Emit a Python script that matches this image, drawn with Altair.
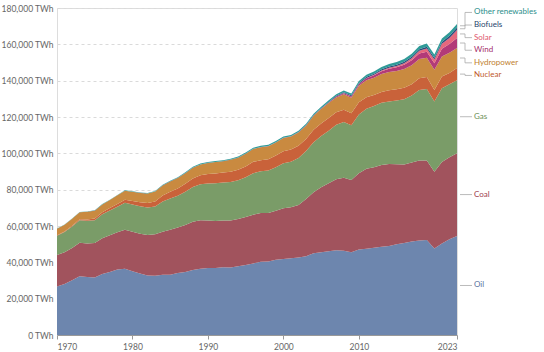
import altair as alt
import pandas as pd

years = list(range(1970, 2024))

oil = [26700, 28100, 30100, 32400, 31900, 31700, 33600, 34700, 36000, 36500,
       35100, 33800, 32800, 32600, 33200, 33200, 34100, 34700, 35800, 36400,
       36900, 36900, 37300, 37200, 37900, 38500, 39400, 40300, 40500, 41400,
       41900, 42200, 42600, 43400, 45000, 45600, 46100, 46600, 46400, 45600,
       47100, 47500, 48000, 48600, 49000, 49900, 50700, 51500, 52000, 52300,
       47600, 50400, 52700, 54500]
coal = [17400, 17400, 17800, 18400, 18500, 18900, 19600, 20200, 20500, 21400,
        21800, 21900, 22200, 22800, 23700, 24700, 25100, 25900, 26500, 26700,
        26100, 25800, 25700, 25800, 26000, 26400, 26800, 26900, 26700, 27000,
        27900, 28100, 29000, 31400, 33600, 35700, 37500, 39200, 40100, 39700,
        42000, 44000, 44300, 45000, 45100, 44100, 43100, 43400, 44100, 43800,
        42300, 44800, 45200, 45600]
gas = [10600, 11200, 11800, 12300, 12500, 12600, 13200, 13600, 14100, 14900,
       15000, 15200, 15200, 15400, 16600, 17200, 17400, 18300, 19100, 19900,
       20400, 20800, 20900, 21200, 21300, 21900, 22900, 22900, 23300, 23900,
       24800, 25100, 25800, 26500, 27500, 28200, 28900, 30000, 30800, 30200,
       32300, 33000, 33800, 34200, 34500, 35100, 36000, 36900, 38800, 39300,
       38700, 40600, 40100, 40100]
nuclear = [230, 320, 440, 560, 710, 960, 1120, 1350, 1560, 1640,
           1860, 2200, 2400, 2750, 3250, 3800, 4100, 4400, 4750, 4900,
           5200, 5450, 5500, 5700, 5800, 6000, 6200, 6150, 6250, 6450,
           6550, 6700, 6750, 6650, 6900, 6900, 6950, 6750, 6700, 6550,
           6750, 6420, 5990, 6000, 6110, 6190, 6240, 6290, 6420, 6590,
           6300, 6530, 6250, 6820]
hydro = [3600, 3700, 3880, 3950, 4250, 4300, 4350, 4450, 4750, 4960,
         5050, 5120, 5250, 5450, 5600, 5650, 5750, 5800, 5950, 5950,
         6100, 6250, 6250, 6550, 6600, 6950, 7050, 7150, 7200, 7200,
         7300, 7150, 7250, 7250, 7650, 7950, 8200, 8250, 8550, 8550,
         9000, 9250, 9550, 9850, 10100, 10100, 10400, 10450, 10650, 10650,
         11050, 10950, 11100, 10900]
wind = [0, 0, 0, 0, 0, 0, 0, 0, 0, 0,
        0, 0, 0, 0, 0, 0, 0, 0, 0, 0,
        10, 10, 10, 10, 20, 20, 30, 30, 40, 60,
        80, 100, 140, 170, 220, 280, 350, 450, 580, 740,
        920, 1150, 1350, 1600, 1770, 2020, 2330, 2690, 2980, 3240,
        3590, 4330, 4870, 5600]
solar = [0, 0, 0, 0, 0, 0, 0, 0, 0, 0,
         0, 0, 0, 0, 0, 0, 0, 0, 0, 0,
         1, 1, 1, 1, 1, 1, 2, 2, 2, 2,
         3, 4, 5, 6, 7, 10, 14, 20, 33, 52,
         87, 170, 260, 360, 500, 650, 850, 1150, 1450, 1780,
         2150, 2650, 3300, 4400]
biofuels = [0, 0, 0, 0, 0, 5, 8, 10, 12, 15,
            20, 25, 30, 35, 45, 55, 55, 60, 60, 60,
            70, 75, 80, 80, 85, 90, 95, 100, 100, 100,
            110, 115, 130, 160, 180, 220, 280, 370, 480, 530,
            600, 620, 620, 680, 750, 770, 800, 850, 950, 1000,
            950, 1050, 1150, 1300]
other = [120, 130, 140, 150, 160, 170, 180, 190, 200, 210,
         230, 250, 270, 300, 330, 360, 380, 400, 420, 440,
         460, 470, 480, 500, 510, 540, 560, 590, 610, 640,
         680, 680, 700, 740, 790, 820, 860, 900, 950, 1000,
         1100, 1150, 1220, 1300, 1380, 1450, 1520, 1600, 1680, 1750,
         1800, 1900, 1950, 2000]

sources = ["Oil", "Coal", "Gas", "Nuclear", "Hydropower", "Wind", "Solar",
           "Biofuels", "Other renewables"]
series = [oil, coal, gas, nuclear, hydro, wind, solar, biofuels, other]
fill_colors = ["#6D86AE", "#A1535D", "#7A9C68", "#C9623A", "#C98A40",
               "#B23A78", "#E5687D", "#2D4A7A", "#2F9B98"]
text_colors = ["#5B73A0", "#A0404E", "#6E9158", "#C0582E", "#C0802E",
               "#A52E6A", "#E0566E", "#263F6B", "#2A8E8B"]
x_ticks = [1970, 1980, 1990, 2000, 2010, 2023]
y_ticks = list(range(0, 180001, 20000))

W, H = 400, 327
Y_MAX = 180000
FONT = "Lato"

rows = []
for i, (name, vals) in enumerate(zip(sources, series)):
    for yr, v in zip(years, vals):
        rows.append({"Year": yr, "Source": name, "Value": v, "order": i})
df = pd.DataFrame(rows)

# label placement: band midpoints in last year, spread apart
last = [s[-1] for s in series]
mids = []
base = 0
for v in last:
    mids.append(base + v / 2)
    base += v
gap = 12.6 * Y_MAX / H
clusters = []
for idx in sorted(range(len(sources)), key=lambda k: mids[k]):
    clusters.append([idx])
    while len(clusters) > 1:
        a, b = clusters[-2], clusters[-1]
        ca = sum(mids[k] for k in a) / len(a)
        cb = sum(mids[k] for k in b) / len(b)
        top_a = ca + (len(a) - 1) * gap / 2
        bot_b = cb - (len(b) - 1) * gap / 2
        if top_a + gap > bot_b:
            clusters[-2:] = [a + b]
        else:
            break
label_y = {}
for c in clusters:
    c_sorted = sorted(c, key=lambda k: mids[k])
    center = sum(mids[k] for k in c_sorted) / len(c_sorted)
    start = center - (len(c_sorted) - 1) * gap / 2
    for j, k in enumerate(c_sorted):
        label_y[k] = start + j * gap
lab = pd.DataFrame({
    "Source": sources,
    "mid": mids,
    "ly": [label_y[k] for k in range(len(sources))],
    "tcolor": text_colors,
})

x_scale = alt.Scale(domain=[1970, 2023], nice=False, zero=False)
y_scale = alt.Scale(domain=[0, Y_MAX], nice=False)
y_axis = alt.Axis(values=y_ticks, title=None, domain=False, ticks=False,
                  gridDash=[3, 3], gridColor="#dadada",
                  labelExpr="format(datum.value, ',') + ' TWh'",
                  labelColor="#666", labelFontSize=8.5, labelFont=FONT,
                  labelPadding=4, labelOverlap=False)

area = alt.Chart(df).mark_area(opacity=1, interpolate="linear").encode(
    x=alt.X("Year:Q", scale=x_scale,
            axis=alt.Axis(values=x_ticks, format="d", title=None, grid=False,
                          labelFlush=True, tickSize=4, tickColor="#999",
                          domainColor="#999", labelColor="#666",
                          labelFontSize=8.5, labelFont=FONT, labelPadding=3,
                          labelOverlap=False)),
    y=alt.Y("Value:Q", stack="zero", scale=y_scale, axis=y_axis),
    color=alt.Color("Source:N", scale=alt.Scale(domain=sources, range=fill_colors),
                    legend=None),
    order=alt.Order("order:Q", sort="ascending"),
)

r1 = alt.Chart(lab).mark_rule(color="#aaa", strokeWidth=0.8).encode(
    x=alt.value(W + 3), x2=alt.value(W + 8),
    y=alt.Y("mid:Q", scale=y_scale, axis=y_axis))
r2 = alt.Chart(lab).mark_rule(color="#aaa", strokeWidth=0.8).encode(
    x=alt.value(W + 8),
    y=alt.Y("mid:Q", scale=y_scale, axis=y_axis), y2="ly:Q")
r3 = alt.Chart(lab).mark_rule(color="#aaa", strokeWidth=0.8).encode(
    x=alt.value(W + 8), x2=alt.value(W + 15),
    y=alt.Y("ly:Q", scale=y_scale, axis=y_axis))
txt = alt.Chart(lab).mark_text(align="left", baseline="middle", font=FONT,
                               fontSize=8).encode(
    x=alt.value(W + 17),
    y=alt.Y("ly:Q", scale=y_scale, axis=y_axis),
    text="Source:N",
    color=alt.Color("tcolor:N", scale=None),
)

chart = alt.layer(area, r1, r2, r3, txt).properties(
    width=W, height=H,
    autosize=alt.AutoSizeParams(type="none"),
    padding={"left": 57, "top": 8, "right": 87, "bottom": 17},
).configure_view(stroke=None).configure(background="white")

chart.save("out.html", embed_options={"renderer": "svg", "actions": False})
